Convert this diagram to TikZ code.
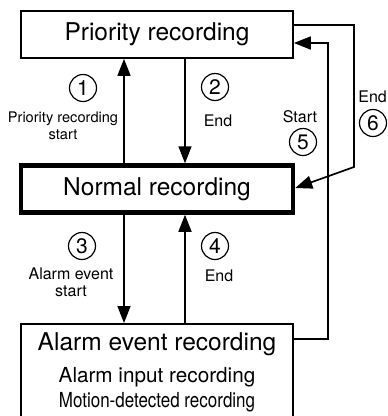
\documentclass[tikz,border=0pt]{standalone}
\usepackage{fontspec}
\setmainfont{TeX Gyre Heros}
\usepackage{graphicx}
\usetikzlibrary{arrows.meta, positioning, calc}

\tikzset{
  statebox/.style={draw, line width=1.7pt, minimum width=272pt, inner sep=0pt},
  bigtext/.style={font=\fontsize{24.5}{28}\selectfont},
  subtext/.style={font=\fontsize{20.7}{24}\selectfont},
  numcirc/.style={draw, circle, line width=1.2pt, minimum size=27pt, inner sep=0pt,
                  font=\fontsize{21}{24}\selectfont},
  smalllabel/.style={font=\fontsize{16}{17}\selectfont, align=center},
  arr/.style={line width=1.7pt, -{Triangle[length=17pt, width=13pt]}},
}

\begin{document}
\begin{tikzpicture}[x=1pt, y=-1pt]
  \useasboundingbox (0,0) rectangle (388,416);

  % Priority recording (top)
  \node[statebox, bigtext, minimum height=47pt] (prio) at (157,34.5) {Priority recording};

  % Normal recording (middle, thick frame)
  \node[statebox, bigtext, line width=4.5pt, minimum height=47pt] (normal) at (157,189)
       {Normal recording};

  % Alarm event recording (bottom, runs off the page)
  \node[statebox, minimum height=96pt, anchor=north] (alarm) at (157,323) {};
  \node[bigtext] (alarmtitle) at (157,344) {Alarm event recording};
  \node[subtext] (alarminput) at (157,377) {Alarm input recording};
  \node[subtext] (alarmmotion) at (157,402) {\scalebox{0.82}[1]{Motion-detected recording}};

  % Vertical arrows between the boxes
  \draw[arr] (normal.north -| 124,0) -- (prio.south -| 124,0);
  \draw[arr] (prio.south -| 185,0) -- (normal.north -| 185,0);
  \draw[arr] (normal.south -| 124,0) -- (alarm.north -| 124,0);
  \draw[arr] (alarm.north -| 185,0) -- (normal.south -| 185,0);

  % Side loops: alarm -> priority (start), priority -> normal (end)
  \draw[arr] (alarm.east |- 0,339) -| (328,43) -- (prio.east |- 0,43);
  \draw[arr] (prio.east |- 0,25) -| (354,167) -- (normal.east |- 0,188);

  % Step numbers and labels
  \node[numcirc] (n1) at (83,88) {1};
  \node[smalllabel, font=\fontsize{14.6}{17}\selectfont] (l1) at (63,125.5)
       {Priority recording\\start};
  \node[numcirc] (n2) at (215,87) {2};
  \node[smalllabel] (l2) at (218,121) {End};
  \node[numcirc] (n3) at (82,246) {3};
  \node[smalllabel] (l3) at (71,282) {Alarm event\\start};
  \node[numcirc] (n4) at (215,246) {4};
  \node[smalllabel] (l4) at (219,276) {End};
  \node[smalllabel] (l5) at (300,117) {Start};
  \node[numcirc] (n5) at (303,142) {5};
  \node[smalllabel, anchor=east, inner sep=1pt] (l6) at (388,97) {End};
  \node[numcirc] (n6) at (373,123) {6};
\end{tikzpicture}
\end{document}
